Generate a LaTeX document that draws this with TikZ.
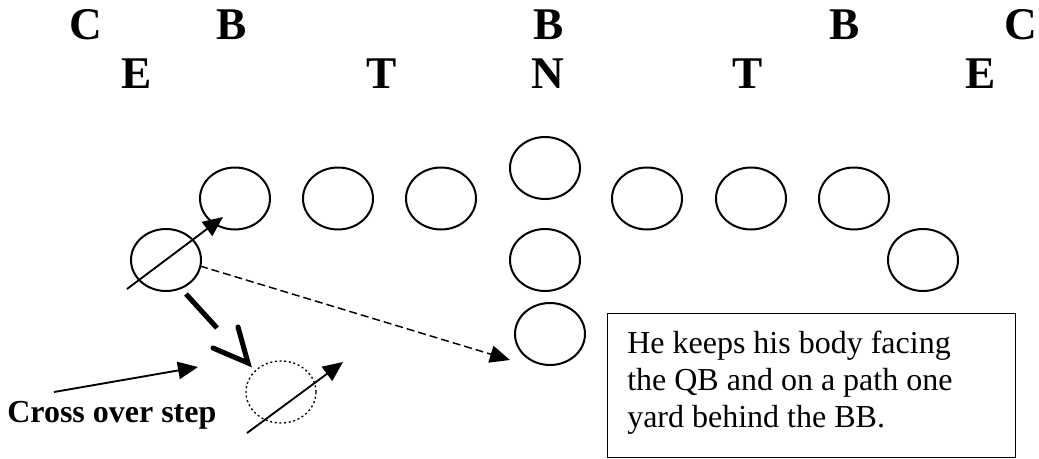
\documentclass[tikz,border=0pt]{standalone}
\usepackage{fontspec}
\setmainfont{Liberation Serif}
\usepackage{tikz}
\usetikzlibrary{arrows.meta,shapes.geometric}

\tikzset{player/.style={draw,ellipse,line width=1.5pt,minimum width=52.5pt,minimum height=46.5pt,inner sep=0pt},
  gap/.style={font=\fontsize{34}{34}\selectfont\bfseries,anchor=base,inner sep=0pt},
  steparrow/.style={line width=1.4pt,-{Triangle[length=15pt,width=13pt]}}}

\begin{document}
\begin{tikzpicture}[x=0.75pt,y=-0.75pt]
\useasboundingbox (0,0) rectangle (1039,458);

\node[gap] (c1) at (86,39) {C}; \node[gap] (b1) at (232,39) {B}; \node[gap] (b2) at (549,39) {B}; \node[gap] (b3) at (845,39) {B}; \node[gap] (c2) at (1021,39) {C};
\node[gap] (e1) at (137,88) {E}; \node[gap] (t1) at (382,88) {T}; \node[gap] (n1) at (548,88) {N}; \node[gap] (t2) at (748,88) {T}; \node[gap] (e2) at (981,88) {E};

% line
\node[player] (p1) at (235,198.5) {}; \node[player] (p2) at (338,198.5) {}; \node[player] (p3) at (441,198.5) {};
\node[player] (p5) at (647,198.5) {}; \node[player] (p6) at (751,198.5) {}; \node[player] (p7) at (854,198.5) {};
\node[player] (end) at (923,260) {}; \node[player] (lb) at (166,260) {};
\node[player] (m1) at (545,168) {}; \node[player] (m2) at (545,260) {}; \node[player] (m3) at (550,334) {};
\node[player,dotted,line width=1pt] (lb2) at (281,392) {};

\coordinate (s1) at (127,289); \coordinate (s2) at (223,217);
\coordinate (s3) at (247,433); \coordinate (s4) at (343,362);
\draw [steparrow] (s1) -- (s2); \draw [steparrow] (s3) -- (s4);

\coordinate (d1) at (200,266); \coordinate (d2) at (510,360);
\draw [steparrow,line width=1.1pt,dash pattern=on 6pt off 3pt] (d1) -- (d2);

\coordinate (k1) at (186,294); \coordinate (k2) at (217,328);
\coordinate (v1) at (213,348); \coordinate (v2) at (248,363); \coordinate (v3) at (238,327);
\draw [line width=3.8pt] (k1) -- (k2); \draw [line width=3.8pt,line cap=round,line join=miter] (v1) -- (v2) -- (v3);

\node[anchor=base west,inner sep=0pt,font=\fontsize{24}{24}\selectfont\bfseries] (cross) at (7,422) {Cross over step};
\coordinate (x1) at (54,392); \coordinate (x2) at (198,367);
\draw [steparrow] (x1) -- (x2);

\node[draw,line width=1.1pt,anchor=north west,minimum width=306pt,minimum height=108pt,inner sep=0pt] (note) at (607,313) {};
\node[anchor=north west,align=left,inner sep=0pt,font=\fontsize{24}{27.75}\selectfont] (notetext) at (627,330.5)
  {He keeps his body facing\\the QB and on a path one\\yard behind the BB.};

\end{tikzpicture}
\end{document}
